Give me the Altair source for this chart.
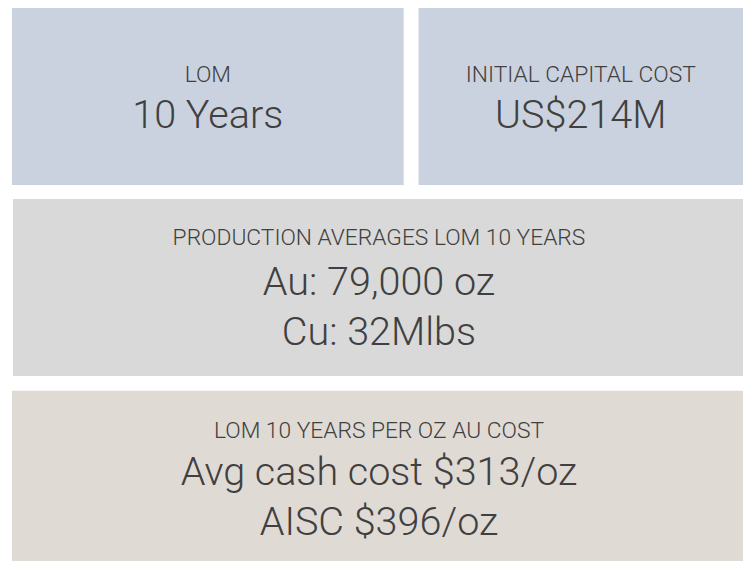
import altair as alt
import pandas as pd

# ---- content ----
panel_titles = ["LOM", "INITIAL CAPITAL COST",
                "PRODUCTION AVERAGES LOM 10 YEARS", "LOM 10 YEARS PER OZ AU COST"]
panel_values = [["10 Years"], ["US$214M"],
                ["Au: 79,000 oz", "Cu: 32Mlbs"],
                ["Avg cash cost $313/oz", "AISC $396/oz"]]
panel_colors = ["#CBD2DF", "#CBD2DF", "#D9D9D9", "#E0DAD5"]

# ---- layout (page pixel units) ----
box_x0 = [12, 423, 13, 12]
box_x1 = [408, 760, 760, 760]
box_y0 = [5, 5, 198, 392]
box_y1 = [184, 184, 377, 580]
title_base = [80, 80, 245, 440]
value_base = [[126], [126], [295, 346], [487, 538]]
text_cx = [210, 587, 383, 383]

TEXT_COLOR = "#404040"
FONT = "Roboto"

boxes = pd.DataFrame({"x0": box_x0, "x1": box_x1, "y0": box_y0, "y1": box_y1,
                      "color": panel_colors})
titles = pd.DataFrame({"x": text_cx, "y": title_base, "t": panel_titles})
vals = pd.DataFrame([{"x": text_cx[i], "y": value_base[i][j], "t": v}
                     for i in range(4) for j, v in enumerate(panel_values[i])])

W, H = 743, 553
xs = alt.Scale(domain=[8, 8 + W])
ys = alt.Scale(domain=[8, 8 + H], reverse=True)

rects = alt.Chart(boxes).mark_rect().encode(
    x=alt.X("x0:Q", scale=xs, axis=None), x2="x1:Q",
    y=alt.Y("y0:Q", scale=ys, axis=None), y2="y1:Q",
    color=alt.Color("color:N", scale=None),
)
title_text = alt.Chart(titles).mark_text(
    font=FONT, fontSize=23, fontWeight=300, color=TEXT_COLOR,
    align="center", baseline="alphabetic"
).encode(x=alt.X("x:Q", scale=xs, axis=None), y=alt.Y("y:Q", scale=ys, axis=None), text="t:N")
value_text = alt.Chart(vals).mark_text(
    font=FONT, fontSize=40, fontWeight=300, color=TEXT_COLOR,
    align="center", baseline="alphabetic"
).encode(x=alt.X("x:Q", scale=xs, axis=None), y=alt.Y("y:Q", scale=ys, axis=None), text="t:N")

chart = alt.layer(rects, title_text, value_text).properties(
    width=W, height=H, autosize=alt.AutoSizeParams(type="none"), padding=0
).configure_view(stroke=None)

chart.save("out.html", embed_options={"renderer": "svg", "actions": False})
